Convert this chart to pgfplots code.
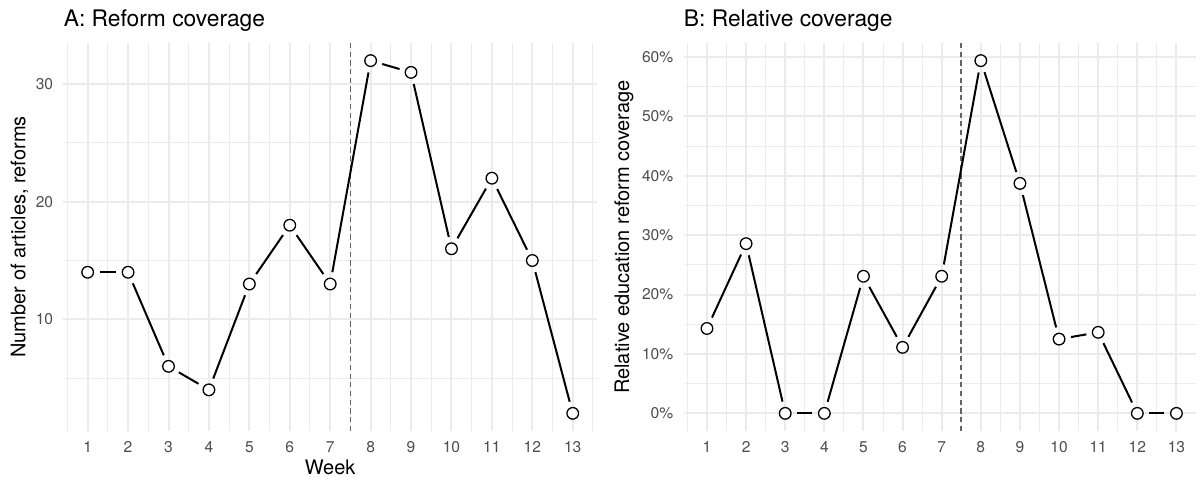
\documentclass[border=0pt]{standalone}
\usepackage{fontspec}
\setmainfont{TeX Gyre Heros}
\usepackage{pgfplots}
\pgfplotsset{compat=1.18}
\usepackage{pgfplotstable}

\definecolor{gridc}{RGB}{235,235,235}
\definecolor{tickc}{RGB}{77,77,77}
\definecolor{dashc}{RGB}{100,100,100}

\pgfplotstableread{
week count rel
1 14 14.29
2 14 28.57
3 6 0
4 4 0
5 13 23.08
6 18 11.11
7 13 23.08
8 32 59.38
9 31 38.71
10 16 12.50
11 22 13.64
12 15 0
13 2 0
}\datatable

\newcommand{\seg}[4]{\addplot[black, line width=1pt, shorten <=6pt, shorten >=6pt, forget plot] coordinates {(#1,#2) (#3,#4)};}

\pgfplotsset{
  panel/.style={
    scale only axis,
    anchor=south west,
    height=194pt,
    axis line style={draw=none},
    major tick length=0pt,
    minor tick length=0pt,
    xtick={1,...,13},
    minor xtick={0.5,1.5,...,13.5},
    grid=both,
    major grid style={color=gridc, line width=1pt},
    minor grid style={color=gridc, line width=0.5pt},
    tick label style={font=\fontsize{7.8}{9}\selectfont, text=tickc},
    /pgf/number format/assume math mode=true,
    xticklabel shift=1.8pt,
    yticklabel shift=1.6pt,
    every axis title shift=0pt,
    title style={at={(axis description cs:0,1)}, anchor=base west, yshift=8.15pt, font=\fontsize{11.4}{13}\selectfont, inner sep=0pt},
    label style={font=\fontsize{10}{12}\selectfont},
    xlabel style={at={(axis description cs:0.5,0)}, anchor=base, yshift=-22pt, inner sep=0pt},
  },
  pts/.style={only marks, mark=*, mark size=2.9pt, mark options={fill=white, draw=black, line width=0.65pt}},
  vline/.style={dashc, line width=0.8pt, dash pattern=on 2.6pt off 1.75pt, forget plot},
}

\begin{document}
\begin{tikzpicture}
\useasboundingbox (0,0) rectangle (598pt,240pt);

\begin{axis}[panel,
  at={(31.7pt,24.5pt)},
  width=266.8pt,
  xmin=0.4, xmax=13.6,
  ymin=0.5, ymax=33.5,
  ytick={10,20,30},
  minor ytick={5,15,25},
  title={A: Reform coverage},
  xlabel={Week},
  ylabel={Number of articles, reforms},
  ylabel style={at={(axis description cs:-0.082,0.5)}, anchor=center, rotate=0},
]
\addplot[vline] coordinates {(7.5,0.5) (7.5,33.5)};
\seg{1}{14}{2}{14}
\seg{2}{14}{3}{6}
\seg{3}{6}{4}{4}
\seg{4}{4}{5}{13}
\seg{5}{13}{6}{18}
\seg{6}{18}{7}{13}
\seg{7}{13}{8}{32}
\seg{8}{32}{9}{31}
\seg{9}{31}{10}{16}
\seg{10}{16}{11}{22}
\seg{11}{22}{12}{15}
\seg{12}{15}{13}{2}
\addplot[pts] table[x=week, y=count] {\datatable};
\end{axis}

\begin{axis}[panel,
  at={(341.75pt,24.5pt)},
  width=256.25pt,
  xmin=0.4, xmax=13.5,
  ymin=-2.969, ymax=62.35,
  ytick={0,10,...,60},
  minor ytick={5,15,...,55},
  yticklabel={\pgfmathprintnumber{\tick}\%},
  title={B: Relative coverage},
  ylabel={Relative education reform coverage},
  ylabel style={at={(axis description cs:-0.1161,0.5)}, anchor=center, rotate=0},
]
\addplot[vline] coordinates {(7.5,-2.969) (7.5,62.35)};
\seg{1}{14.29}{2}{28.57}
\seg{2}{28.57}{3}{0}
\seg{3}{0}{4}{0}
\seg{4}{0}{5}{23.08}
\seg{5}{23.08}{6}{11.11}
\seg{6}{11.11}{7}{23.08}
\seg{7}{23.08}{8}{59.38}
\seg{8}{59.38}{9}{38.71}
\seg{9}{38.71}{10}{12.50}
\seg{10}{12.50}{11}{13.64}
\seg{11}{13.64}{12}{0}
\seg{12}{0}{13}{0}
\addplot[pts] table[x=week, y=rel] {\datatable};
\end{axis}
\end{tikzpicture}
\end{document}
